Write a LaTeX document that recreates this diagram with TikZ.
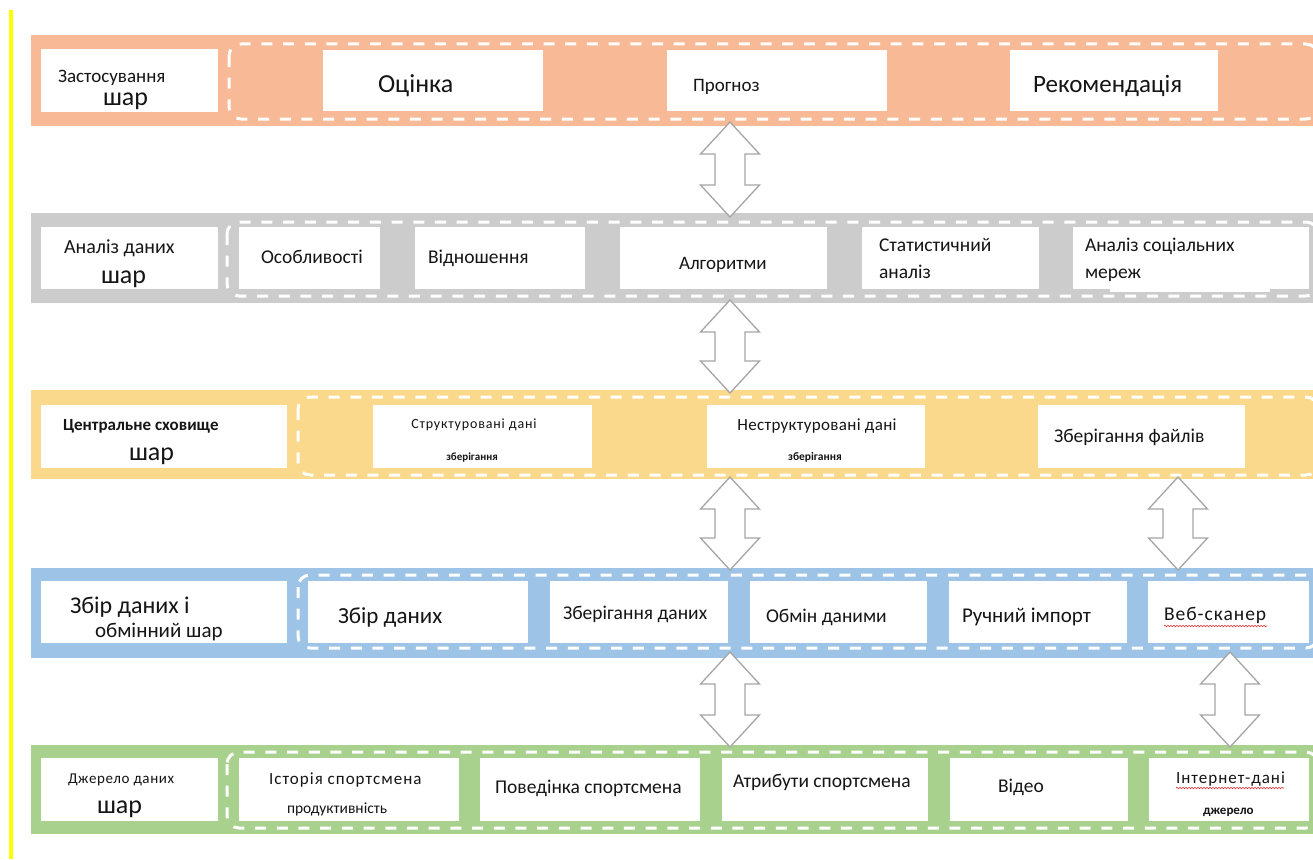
\documentclass[tikz,border=0pt]{standalone}
\usepackage{fontspec}
\setmainfont{Carlito}
\usetikzlibrary{fit,calc,decorations.pathmorphing}

\definecolor{bandorange}{HTML}{F8B996}
\definecolor{bandgray}{HTML}{CCCCCC}
\definecolor{bandyellow}{HTML}{FBD98C}
\definecolor{bandblue}{HTML}{9DC3E6}
\definecolor{bandgreen}{HTML}{A9D18E}
\definecolor{arrowgray}{HTML}{A5A5A5}
\definecolor{ink}{HTML}{151515}
\definecolor{marker}{HTML}{FFFF00}
\definecolor{spellred}{HTML}{E03030}

% font size in pt
\newcommand\fs[1]{\fontsize{#1pt}{#1pt}\selectfont}
\newcommand\spaced[1]{\addfontfeature{LetterSpace=#1}}

\tikzset{
  area/.style={inner sep=0pt, outer sep=0pt, draw=none},
  band/.style={area},
  whitebox/.style={area, fill=white},
  dashframe/.style={draw=white, line width=3pt, dash pattern=on 11pt off 10.7pt, rounded corners=12pt},
  hollow/.style={draw=arrowgray, fill=white, line width=1.3pt, line join=miter},
  lbl/.style={inner sep=0pt, outer sep=0pt, text=ink, anchor=base west},
  lblc/.style={lbl, anchor=base},
  squiggle/.style={draw=spellred, line width=0.6pt, decorate,
    decoration={snake, amplitude=0.8pt, segment length=3pt}},
}

% hollow two-headed block arrow between two named points
\newcommand\twinarrow[2]{%
  \draw[hollow] (#1) -- ($(#1)+(29.5,32)$) -- ($(#1)+(15,32)$)
    -- ($(#2)+(15,-32)$) -- ($(#2)+(29.5,-32)$) -- (#2)
    -- ($(#2)+(-29.5,-32)$) -- ($(#2)+(-15,-32)$)
    -- ($(#1)+(-15,32)$) -- ($(#1)+(-29.5,32)$) -- cycle;}

\begin{document}
\begin{tikzpicture}[x=1pt,y=-1pt]
\useasboundingbox (0,0) rectangle (1313,859);
\clip (0,0) rectangle (1313,859);
\fill[white] (0,0) rectangle (1313,859);
\fill[marker] (9,10) rectangle (13,859);

% ---------- layer bands ----------
\node[band, fill=bandorange, fit={(31,35) (1320,126)}] (L1) {};
\node[band, fill=bandgray,   fit={(31,213) (1320,303)}] (L2) {};
\node[band, fill=bandyellow, fit={(31,390) (1320,479)}] (L3) {};
\node[band, fill=bandblue,   fit={(31,568) (1320,658)}] (L4) {};
\node[band, fill=bandgreen,  fit={(31,745) (1320,834)}] (L5) {};

% ---------- layer title boxes ----------
\node[whitebox, fit={(41,49) (218,112)}]  (T1) {};
\node[whitebox, fit={(41,227) (218,289)}] (T2) {};
\node[whitebox, fit={(41,405) (287,468)}] (T3) {};
\node[whitebox, fit={(41,581) (287,643)}] (T4) {};
\node[whitebox, fit={(41,758) (218,821)}] (T5) {};

% ---------- dashed frames ----------
\draw[dashframe] (229,44)  rectangle (1318,119);
\draw[dashframe] (227,222) rectangle (1318,296);
\draw[dashframe] (298,397) rectangle (1318,475);
\draw[dashframe] (298,575) rectangle (1318,648);
\draw[dashframe] (227,752) rectangle (1318,828);

% ---------- component boxes ----------
\node[whitebox, fit={(323,50) (543,111)}]   (b11) {};
\node[whitebox, fit={(667,50) (887,111)}]   (b12) {};
\node[whitebox, fit={(1010,50) (1218,111)}] (b13) {};

\node[whitebox, fit={(239,227) (380,289)}]   (b21) {};
\node[whitebox, fit={(415,227) (585,289)}]   (b22) {};
\node[whitebox, fit={(620,227) (827,289)}]   (b23) {};
\node[whitebox, fit={(862,227) (1039,289)}]  (b24) {};
\node[whitebox, fit={(1073,227) (1309,289)}] (b25) {};
\fill[white] (1110,288) rectangle (1270,292);

\node[whitebox, fit={(373,405) (592,468)}]   (b31) {};
\node[whitebox, fit={(707,405) (925,468)}]   (b32) {};
\node[whitebox, fit={(1038,405) (1245,468)}] (b33) {};

\node[whitebox, fit={(308,581) (528,643)}]   (b41) {};
\node[whitebox, fit={(550,581) (728,643)}]   (b42) {};
\node[whitebox, fit={(750,581) (927,643)}]   (b43) {};
\node[whitebox, fit={(949,581) (1127,643)}]  (b44) {};
\node[whitebox, fit={(1148,581) (1309,643)}] (b45) {};

\node[whitebox, fit={(239,758) (459,821)}]   (b51) {};
\node[whitebox, fit={(480,758) (700,821)}]   (b52) {};
\node[whitebox, fit={(722,758) (928,821)}]   (b53) {};
\node[whitebox, fit={(950,758) (1128,821)}]  (b54) {};
\node[whitebox, fit={(1149,758) (1309,821)}] (b55) {};

% ---------- arrows between layers ----------
\coordinate (a1t) at (730,122);  \coordinate (a1b) at (730,217);
\coordinate (a2t) at (730,300);  \coordinate (a2b) at (730,393);
\coordinate (a3t) at (730,477);  \coordinate (a3b) at (730,570);
\coordinate (a4t) at (1178,477); \coordinate (a4b) at (1178,570);
\coordinate (a5t) at (730,652);  \coordinate (a5b) at (730,747);
\coordinate (a6t) at (1230,652); \coordinate (a6b) at (1230,747);
\twinarrow{a1t}{a1b}
\twinarrow{a2t}{a2b}
\twinarrow{a3t}{a3b}
\twinarrow{a4t}{a4b}
\twinarrow{a5t}{a5b}
\twinarrow{a6t}{a6b}

% ---------- application layer ----------
\node[lbl, font=\fs{19}] (t1a) at (58,82)  {Застосування};
\node[lbl, font=\fs{26}] (t1b) at (103,105) {шар};
\node[lbl, font=\fs{26}] (t11) at (378,92)  {Оцінка};
\node[lbl, font=\fs{19}] (t12) at (693,91)  {Прогноз};
\node[lbl, font=\fs{25}] (t13) at (1033,92) {Рекомендація};

% ---------- data analysis layer ----------
\node[lbl, font=\fs{20}] (t2a) at (64,253)  {Аналіз даних};
\node[lbl, font=\fs{26}] (t2b) at (101,283) {шар};
\node[lbl, font=\fs{19.5}] (t21) at (261,263) {Особливості};
\node[lbl, font=\fs{19.5}] (t22) at (428,263) {Відношення};
\node[lbl, font=\fs{19}]   (t23) at (679,269) {Алгоритми};
\node[lbl, font=\fs{19.5}] (t24a) at (879,251) {Статистичний};
\node[lbl, font=\fs{19.5}] (t24b) at (879,278) {аналіз};
\node[lbl, font=\fs{19.5}] (t25a) at (1085,251) {Аналіз соціальних};
\node[lbl, font=\fs{19.5}] (t25b) at (1085,278) {мереж};

% ---------- central storage layer ----------
\node[lbl, font=\fs{17}\bfseries] (t3a) at (63,430) {Центральне сховище};
\node[lbl, font=\fs{26}] (t3b) at (129,460) {шар};
\node[lblc, font=\fs{14}\spaced{6}] (t31a) at (474,428) {Структуровані  дані};
\node[lblc, font=\fs{11}\bfseries]  (t31b) at (472,460) {зберігання};
\node[lblc, font=\fs{17}\spaced{2}] (t32a) at (817,430) {Неструктуровані  дані};
\node[lblc, font=\fs{11.5}\bfseries] (t32b) at (815,460) {зберігання};
\node[lbl, font=\fs{19.5}] (t33) at (1054,442) {Зберігання файлів};

% ---------- collection and exchange layer ----------
\node[lbl, font=\fs{24}] (t4a) at (70,613) {Збір даних  і};
\node[lbl, font=\fs{21}] (t4b) at (95,637) {обмінний шар};
\node[lbl, font=\fs{23}] (t41) at (338,623) {Збір  даних};
\node[lbl, font=\fs{19.5}] (t42) at (563,619) {Зберігання даних};
\node[lbl, font=\fs{19.5}] (t43) at (766,622) {Обмін даними};
\node[lbl, font=\fs{21}]   (t44) at (962,622) {Ручний імпорт};
\node[lbl, font=\fs{19.5}\spaced{5}] (t45) at (1164,620) {Веб-сканер};
\draw[squiggle] (t45.base west) ++(0,6) -- ++(103,0);

% ---------- data source layer ----------
\node[lbl, font=\fs{15}\spaced{4}] (t5a) at (68,783) {Джерело даних};
\node[lbl, font=\fs{26}] (t5b) at (97,813) {шар};
\node[lbl, font=\fs{17}\spaced{6}] (t51a) at (269,784) {Історія  спортсмена};
\node[lbl, font=\fs{15.5}] (t51b) at (287,813) {продуктивність};
\node[lbl, font=\fs{19.5}] (t52) at (495,793) {Поведінка спортсмена};
\node[lbl, font=\fs{19.5}] (t53) at (733,787) {Атрибути спортсмена};
\node[lbl, font=\fs{19.5}] (t54) at (998,792) {Відео};
\node[lbl, font=\fs{17}\spaced{6}] (t55a) at (1176,783) {Інтернет-дані};
\draw[squiggle] (t55a.base west) ++(0,5) -- ++(108,0);
\node[lbl, font=\fs{13}\bfseries] (t55b) at (1203,814) {джерело};
\end{tikzpicture}
\end{document}
